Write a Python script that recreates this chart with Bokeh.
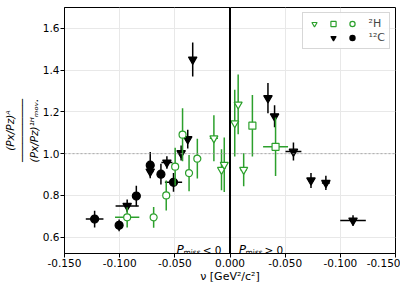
from bokeh.plotting import figure
from bokeh.models import (ColumnDataSource, Span, Label, Legend, LegendItem, FixedTicker,
                          CustomJSTickFormatter, Range1d)
from bokeh.embed import file_html
from bokeh.resources import INLINE

GREEN = "#2ca02c"
FONT = "DejaVu Sans"

# ---- data (nu in GeV^2/c^2; right half = Pmiss > 0, shown mirrored) ----
h2_tri_x = [-0.0146, -0.0077, -0.0052, 0.0043, 0.0074, 0.0124]
h2_tri_y = [1.074, 0.923, 0.947, 1.146, 1.236, 0.923]
h2_tri_xerr = [0.0037, 0.002, 0.002, 0.002, 0.002, 0.003]
h2_tri_yerr = [0.110, 0.098, 0.130, 0.160, 0.143, 0.079]

h2_sq_x = [0.0203, 0.0413]
h2_sq_y = [1.134, 1.033]
h2_sq_xerr = [0.002, 0.0113]
h2_sq_yerr = [0.147, 0.140]

h2_circ_x = [-0.0932, -0.0692, -0.0578, -0.0497, -0.0430, -0.0371, -0.0296]
h2_circ_y = [0.695, 0.695, 0.800, 0.938, 1.091, 0.907, 0.976]
h2_circ_xerr = [0.011, 0.002, 0.002, 0.002, 0.002, 0.002, 0.002]
h2_circ_yerr = [0.049, 0.050, 0.072, 0.090, 0.127, 0.087, 0.095]

c12_tri_x = [-0.0932, -0.0723, -0.0572, -0.0443, -0.0383, -0.0338,
             0.0344, 0.0404, 0.0575, 0.0734, 0.0869, 0.1115]
c12_tri_y = [0.750, 0.915, 0.958, 1.003, 1.070, 1.451,
             1.266, 1.179, 1.010, 0.872, 0.860, 0.680]
c12_tri_xerr = [0.0105, 0.003, 0.005, 0.002, 0.002, 0.002,
                0.002, 0.002, 0.0072, 0.0027, 0.0036, 0.0116]
c12_tri_yerr = [0.030, 0.020, 0.030, 0.036, 0.045, 0.081,
                0.072, 0.053, 0.043, 0.036, 0.034, 0.025]

c12_circ_x = [-0.1227, -0.1005, -0.0849, -0.0723, -0.0626, -0.0512]
c12_circ_y = [0.687, 0.657, 0.797, 0.945, 0.902, 0.863]
c12_circ_xerr = [0.008, 0.002, 0.002, 0.002, 0.002, 0.0078]
c12_circ_yerr = [0.040, 0.028, 0.049, 0.063, 0.050, 0.045]

x_ticks = [-0.15, -0.1, -0.05, 0.0, 0.05, 0.1, 0.15]
y_ticks = [0.6, 0.8, 1.0, 1.2, 1.4, 1.6]

Y_BOT, Y_TOP = 0.522, 1.70

p = figure(width=400, height=285, output_backend="svg", toolbar_location=None,
           x_range=Range1d(-0.15, 0.15), y_range=Range1d(Y_BOT, Y_TOP),
           min_border_left=62, min_border_right=5, min_border_top=7, min_border_bottom=10)
p.background_fill_color = "white"
p.outline_line_color = "black"
p.outline_line_width = 1

for ax in (p.xaxis[0], p.yaxis[0]):
    ax.major_tick_out = 4
    ax.major_tick_in = 0
    ax.minor_tick_out = 0
    ax.minor_tick_in = 0
    ax.major_label_text_font = FONT
    ax.major_label_text_font_size = "10.5px"
    ax.major_label_text_color = "black"
    ax.axis_line_color = "black"
    ax.major_tick_line_color = "black"
    ax.axis_label_text_font = FONT
    ax.axis_label_text_color = "black"
    ax.axis_label_text_font_style = "normal"

p.xaxis.ticker = FixedTicker(ticks=x_ticks)
p.xaxis.formatter = CustomJSTickFormatter(code="return (-Math.abs(tick)).toFixed(3);")
p.yaxis.ticker = FixedTicker(ticks=y_ticks)
p.yaxis.formatter = CustomJSTickFormatter(code="return tick.toFixed(1);")
p.xaxis.major_label_standoff = 1
p.xaxis.axis_label = "ν [GeV²/c²]"
p.xaxis.axis_label_text_font_size = "11px"
p.xaxis.axis_label_standoff = 0

p.yaxis.major_label_standoff = 1
p.yaxis.axis_label = "(Px/Pz)ᴬ\n──────────\n(Px/Pz)¹ᴴₘₒᵥ."
p.yaxis.axis_label_text_font_size = "10.5px"
p.yaxis.axis_label_text_font_style = "italic"
p.yaxis.axis_label_text_line_height = 1.0
p.yaxis.axis_label_standoff = 0

p.xgrid.grid_line_color = "#e8e8e8"
p.ygrid.grid_line_color = "#e8e8e8"

p.add_layout(Span(location=1.0, dimension="width", line_color="#999999",
                  line_width=0.8, line_dash="2 2"))
p.add_layout(Span(location=0.0, dimension="height", line_color="black", line_width=2))


def add_series(xs, ys, xe, ye, color, marker, size, fill):
    src = ColumnDataSource(dict(
        x=xs, y=ys,
        xl=[a - b for a, b in zip(xs, xe)], xh=[a + b for a, b in zip(xs, xe)],
        yl=[a - b for a, b in zip(ys, ye)], yh=[a + b for a, b in zip(ys, ye)]))
    p.segment(x0="xl", y0="y", x1="xh", y1="y", source=src, line_color=color, line_width=1.5)
    p.segment(x0="x", y0="yl", x1="x", y1="yh", source=src, line_color=color, line_width=1.5)
    return p.scatter("x", "y", source=src, marker=marker, size=size,
                     fill_color=fill, line_color=color, line_width=1.2)


r_c_tri = add_series(c12_tri_x, c12_tri_y, c12_tri_xerr, c12_tri_yerr, "black", "inverted_triangle", 8.5, "black")
r_c_circ = add_series(c12_circ_x, c12_circ_y, c12_circ_xerr, c12_circ_yerr, "black", "circle", 8, "black")
r_h_tri = add_series(h2_tri_x, h2_tri_y, h2_tri_xerr, h2_tri_yerr, GREEN, "inverted_triangle", 8, "white")
r_h_sq = add_series(h2_sq_x, h2_sq_y, h2_sq_xerr, h2_sq_yerr, GREEN, "square", 7, "white")
r_h_circ = add_series(h2_circ_x, h2_circ_y, h2_circ_xerr, h2_circ_yerr, GREEN, "circle", 7, "white")

# legend helper renderers (no data): error-bar crosses and an empty slot
cross_g = p.scatter(x=[], y=[], marker="cross", size=8, line_color=GREEN, line_width=1.5)
cross_k = p.scatter(x=[], y=[], marker="cross", size=8, line_color="black", line_width=1.5)
blank = p.scatter(x=[], y=[], marker="circle", size=1, fill_alpha=0, line_alpha=0)

# column-major order: col1 = (2H tri, empty), col2 = (2H sq, 12C tri), col3 = (2H circ, 12C circ)
legend = Legend(items=[
    LegendItem(label="", renderers=[cross_g, r_h_tri]),
    LegendItem(label="", renderers=[blank]),
    LegendItem(label="", renderers=[cross_g, r_h_sq]),
    LegendItem(label="", renderers=[cross_k, r_c_tri]),
    LegendItem(label="\u2002²H", renderers=[cross_g, r_h_circ]),
    LegendItem(label="\u2002¹²C", renderers=[cross_k, r_c_circ]),
], ncols=3, location="top_right")
legend.label_text_font = FONT
legend.label_text_font_size = "11px"
legend.label_width = 0
legend.label_height = 11
legend.label_standoff = 4
legend.glyph_width = 14
legend.glyph_height = 13
legend.spacing = 1
legend.padding = 4
legend.margin = 5
legend.border_line_color = "#b0b0b0"
legend.background_fill_alpha = 0.9
p.add_layout(legend)

# P_miss annotations
def lab(text, xo, yo, size, style="normal", align="left"):
    p.add_layout(Label(x=0.0, y=Y_BOT, x_offset=xo, y_offset=yo, text=text,
                       text_font=FONT, text_font_size=size, text_font_style=style,
                       text_color="black", text_align=align, text_baseline="alphabetic"))

lab("P", -53.5, 3.5, "12px", "italic")
lab("miss", -46.6, 1.0, "7.5px")
lab("< 0", -8.5, 3.5, "10.5px", align="right")
lab("P", 8.8, 3.5, "12px", "italic")
lab("miss", 15.5, 1.0, "7.5px")
lab("> 0", 53.2, 3.5, "10.5px", align="right")

open("out.html", "w").write(file_html(p, INLINE))
